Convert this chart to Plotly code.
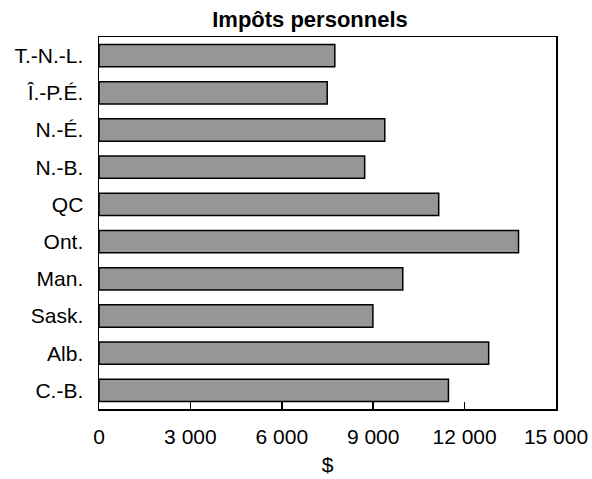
import plotly.graph_objects as go

provinces = ["T.-N.-L.", "Î.-P.É.", "N.-É.", "N.-B.", "QC", "Ont.", "Man.", "Sask.", "Alb.", "C.-B."]
impots = [7740, 7490, 9380, 8720, 11150, 13770, 9970, 8990, 12790, 11470]
x_ticks = [0, 3000, 6000, 9000, 12000, 15000]

fig = go.Figure(go.Bar(
    x=impots, y=provinces, orientation="h",
    marker=dict(color="#969696", line=dict(color="black", width=1.5)),
))

font = "Liberation Sans, Arial, sans-serif"
W, H = 592, 479
fig.update_layout(
    width=W, height=H,
    margin=dict(l=99, r=36, t=37, b=70, autoexpand=False),
    paper_bgcolor="white", plot_bgcolor="white",
    separators=", ",
    bargap=0.4,
    showlegend=False,
    font=dict(family=font, size=21, color="black"),
    title=dict(text="<b>Impôts personnels</b>", x=310 / W, xanchor="center",
               y=1 - 19 / H, yanchor="middle",
               font=dict(family=font, size=22, color="black")),
)
fig.update_xaxes(
    range=[0, 15000], tickvals=x_ticks, tickformat=",d",
    ticks="inside", ticklen=7, tickwidth=1.5, tickcolor="black",
    showline=True, linecolor="black", linewidth=1.5, mirror=True,
    showgrid=False, zeroline=False, automargin=False,
    ticklabelstandoff=8,
    title=dict(text="$", standoff=10, font=dict(size=21)),
    tickfont=dict(size=21),
)
fig.update_yaxes(
    autorange="reversed",
    ticks="", showline=True, linecolor="black", linewidth=1.5, mirror=True,
    showgrid=False, zeroline=False, automargin=False,
    ticklabelstandoff=10,
    tickfont=dict(size=21),
)

fig.write_html(
    "out.html",
    config={"displayModeBar": False, "staticPlot": True},
    post_script="document.body.style.margin='0';document.body.style.overflow='hidden';",
)
